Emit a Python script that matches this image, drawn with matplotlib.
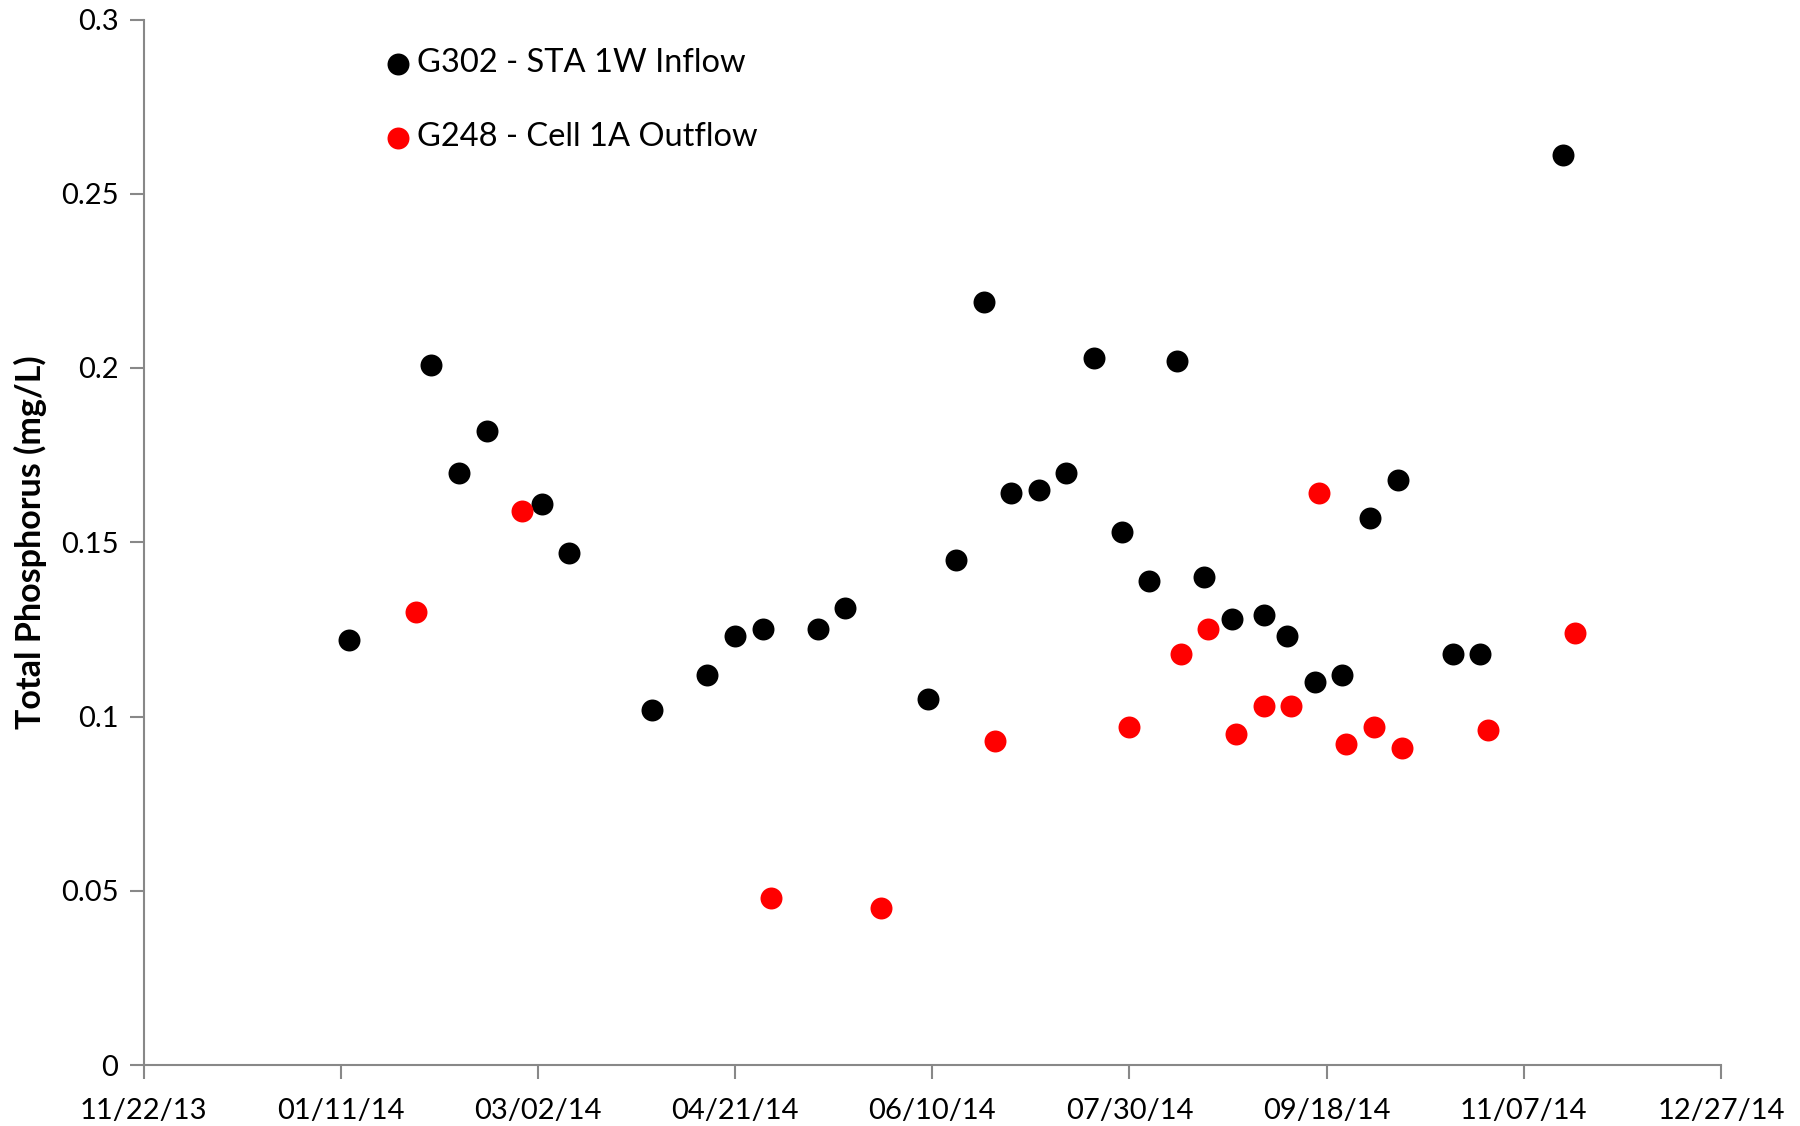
import matplotlib
matplotlib.use("Agg")
import matplotlib.pyplot as plt
import matplotlib.dates as mdates
import numpy as np
from datetime import datetime, timedelta

plt.rcParams['font.family'] = ['Lato', 'DejaVu Sans']

inflow_dates = ["2014-01-13", "2014-02-03", "2014-02-10", "2014-02-17", "2014-03-03",
                "2014-03-10", "2014-03-31", "2014-04-14", "2014-04-21", "2014-04-28",
                "2014-05-12", "2014-05-19", "2014-06-09", "2014-06-16", "2014-06-23",
                "2014-06-30", "2014-07-07", "2014-07-14", "2014-07-21", "2014-07-28",
                "2014-08-04", "2014-08-11", "2014-08-18", "2014-08-25", "2014-09-02",
                "2014-09-08", "2014-09-15", "2014-09-22", "2014-09-29", "2014-10-06",
                "2014-10-20", "2014-10-27", "2014-11-17"]
inflow_tp = [0.122, 0.201, 0.170, 0.182, 0.161,
             0.147, 0.102, 0.112, 0.123, 0.125,
             0.125, 0.131, 0.105, 0.145, 0.219,
             0.164, 0.165, 0.170, 0.203, 0.153,
             0.139, 0.202, 0.140, 0.128, 0.129,
             0.123, 0.110, 0.112, 0.157, 0.168,
             0.118, 0.118, 0.261]

outflow_dates = ["2014-01-30", "2014-02-26", "2014-04-30", "2014-05-28", "2014-06-26",
                 "2014-07-30", "2014-08-12", "2014-08-19", "2014-08-26", "2014-09-02",
                 "2014-09-09", "2014-09-16", "2014-09-23", "2014-09-30", "2014-10-07",
                 "2014-10-29", "2014-11-20"]
outflow_tp = [0.130, 0.159, 0.048, 0.045, 0.093,
              0.097, 0.118, 0.125, 0.095, 0.103,
              0.103, 0.164, 0.092, 0.097, 0.091,
              0.096, 0.124]

series_labels = ["G302 - STA 1W Inflow", "G248 - Cell 1A Outflow"]
y_ticks = [0, 0.05, 0.1, 0.15, 0.2, 0.25, 0.3]
y_tick_labels = ["0", "0.05", "0.1", "0.15", "0.2", "0.25", "0.3"]
x_start = "2013-11-22"
x_step_days = 50
x_n_ticks = 9

fig = plt.figure(figsize=(18, 11.26), dpi=100)
ax = fig.add_axes([143.5/1800, 1 - 1065/1126, (1721 - 143.5)/1800, (1065 - 19.5)/1126])

to_dt = lambda s: datetime.strptime(s, "%Y-%m-%d")
ax.scatter([to_dt(d) for d in inflow_dates], inflow_tp, s=250, color='black',
           label=series_labels[0], zorder=3, linewidths=0)
ax.scatter([to_dt(d) for d in outflow_dates], outflow_tp, s=250, color='#ff0000',
           label=series_labels[1], zorder=3, linewidths=0)

start = to_dt(x_start)
xticks = [start + timedelta(days=x_step_days * k) for k in range(x_n_ticks)]
ax.set_xlim(xticks[0], xticks[-1])
ax.set_xticks(xticks)
ax.xaxis.set_major_formatter(mdates.DateFormatter('%m/%d/%y'))
ax.set_ylim(0, 0.3)
ax.set_yticks(y_ticks)
ax.set_yticklabels(y_tick_labels)

for s in ['top', 'right']:
    ax.spines[s].set_visible(False)
for s in ['left', 'bottom']:
    ax.spines[s].set_color('#888888')
    ax.spines[s].set_linewidth(1.5)
ax.tick_params(axis='both', colors='#888888', length=10, width=1.5, direction='out',
               labelcolor='black', labelsize=21)
ax.tick_params(axis='x', pad=14)
ax.tick_params(axis='y', pad=8)

ax.set_ylabel("Total Phosphorus (mg/L)", fontsize=24.5, fontweight='bold', labelpad=10)

leg = ax.legend(loc='upper left', bbox_to_anchor=(0.1405, 0.988), frameon=False,
                fontsize=23.5, handletextpad=0.1, labelspacing=1.35, markerscale=1.0,
                handlelength=1.0, borderpad=0)

fig.savefig("out.png", dpi=100)
